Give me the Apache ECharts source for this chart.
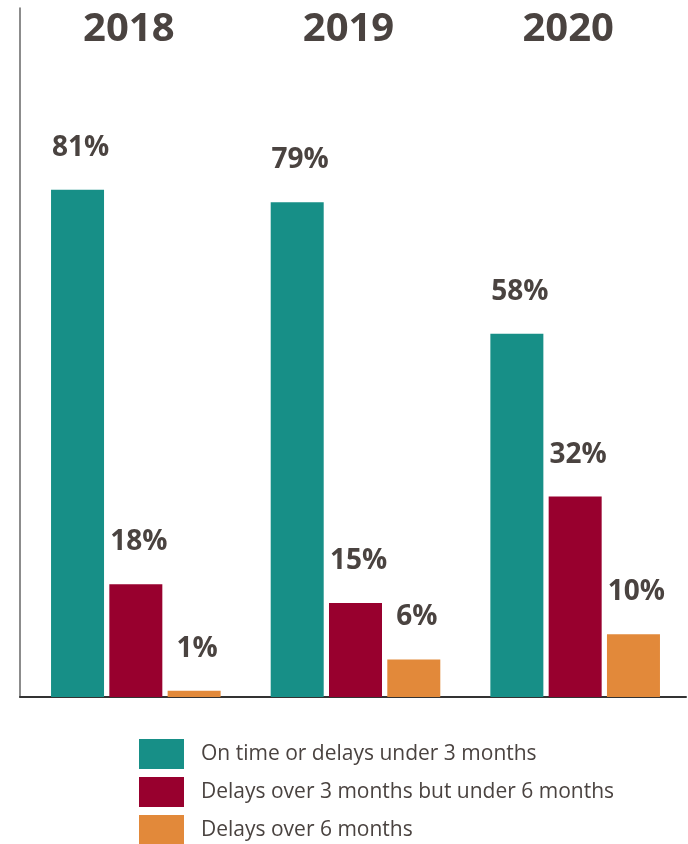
<!DOCTYPE html>
<html>
<head>
<meta charset="utf-8">
<script src="https://cdn.jsdelivr.net/npm/echarts@6/dist/echarts.min.js"></script>
<style>
  html, body { margin: 0; padding: 0; background: #fff; }
  #chart { width: 688px; height: 844px; }
</style>
</head>
<body>
<div id="chart"></div>
<script>
// 年份
var years = ['2018', '2019', '2020'];
// 各类别数值（%）
var onTime = [81, 79, 58];
var delay3to6 = [18, 15, 32];
var delayOver6 = [1, 6, 10];
var seriesNames = [
  'On time or delays under 3 months',
  'Delays over 3 months but under 6 months',
  'Delays over 6 months'
];

var textColor = '#4a4340';
var font = '"Open Sans", "Noto Sans", sans-serif';

function barSeries(name, data, color) {
  return {
    name: name,
    type: 'bar',
    xAxisIndex: 0,
    yAxisIndex: 0,
    barWidth: 53,
    barGap: '10%',
    data: data,
    itemStyle: { color: color },
    label: {
      show: true,
      position: 'top',
      distance: 28,
      offset: [3, 0],
      formatter: '{c}%',
      color: textColor,
      fontFamily: font,
      fontWeight: 'bold',
      fontSize: 28
    }
  };
}

var chart = echarts.init(document.getElementById('chart'));
chart.setOption({
  animation: false,
  // grid 0 放柱子，grid 1 只画坐标轴线
  grid: [
    { left: 26, right: 3, top: 8, bottom: 147 },
    { left: 20, right: 2, top: 8, bottom: 147 }
  ],
  legend: {
    orient: 'vertical',
    left: 139,
    top: 739,
    height: 140,
    padding: 0,
    icon: 'rect',
    itemWidth: 45,
    itemHeight: 30,
    itemGap: 8,
    textStyle: { color: textColor, fontFamily: font, fontSize: 21, padding: [2, 0, 0, 12] },
    data: seriesNames
  },
  xAxis: [
    {
      type: 'category',
      gridIndex: 0,
      data: years,
      position: 'top',
      axisLine: { show: false },
      axisTick: { show: false },
      axisLabel: {
        inside: true,
        margin: 2,
        padding: [0, 14, 0, 0],
        color: textColor,
        fontFamily: font,
        fontWeight: 'bold',
        fontSize: 40,
        verticalAlign: 'top'
      }
    },
    {
      type: 'category',
      gridIndex: 1,
      data: years,
      position: 'bottom',
      axisLine: { show: true, lineStyle: { color: '#333', width: 2 } },
      axisTick: { show: false },
      axisLabel: { show: false }
    }
  ],
  yAxis: [
    {
      type: 'value',
      gridIndex: 0,
      min: 0,
      max: 110,
      axisLabel: { show: false },
      axisTick: { show: false },
      splitLine: { show: false },
      axisLine: { show: false }
    },
    {
      type: 'value',
      gridIndex: 1,
      min: 0,
      max: 110,
      axisLabel: { show: false },
      axisTick: { show: false },
      splitLine: { show: false },
      axisLine: { show: true, lineStyle: { color: '#666', width: 1.5 } }
    }
  ],
  series: [
    barSeries(seriesNames[0], onTime, '#178f87'),
    barSeries(seriesNames[1], delay3to6, '#98002e'),
    barSeries(seriesNames[2], delayOver6, '#e2893a')
  ]
});
</script>
</body>
</html>
